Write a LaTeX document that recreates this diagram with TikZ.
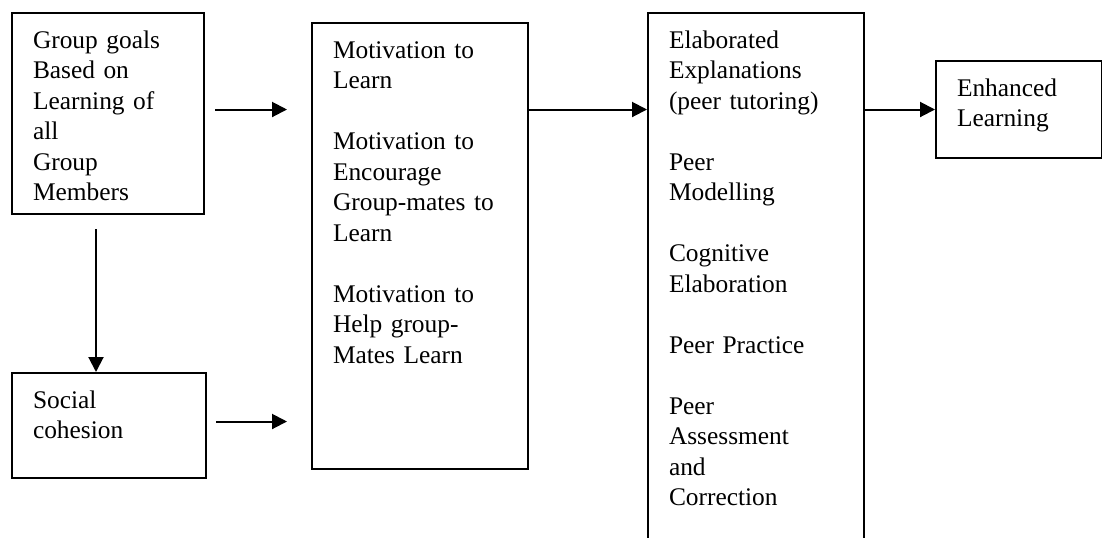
\documentclass[tikz,border=0pt]{standalone}
\usepackage{fontspec}
\setmainfont{Liberation Serif}
\usetikzlibrary{arrows.meta}
\tikzset{
    stagebox/.style={draw, line width=1pt, anchor=north west, align=left,
        inner xsep=10.5pt, inner ysep=7.5pt, text height=10pt,
        font=\fontsize{12.7}{15.25}\selectfont},
    flow/.style={line width=1pt, -{Triangle[length=7.5pt, width=7.5pt]}}
}
\begin{document}
\begin{tikzpicture}[x=0.5pt, y=-0.5pt]
    \useasboundingbox (0, 0) rectangle (1102, 537);
    \clip (0, 0) rectangle (1102, 537);
        \node[stagebox, text width=75pt, text depth=75.5pt] (goals) at (11, 12)
            {Group goals\\Based on\\Learning of\\all\\Group\\Members};
        \node[stagebox, text width=76pt, text depth=27.5pt] (cohesion) at (11, 372)
            {Social\\cohesion};
        \node[stagebox, text width=87pt, text depth=198pt] (motiv) at (311, 22)
            {Motivation to\\Learn\\[15.25pt]Motivation to\\Encourage\\Group-mates to\\Learn\\[15.25pt]Motivation to\\Help group-\\Mates Learn};
        \node[stagebox, text width=87pt, text depth=241.5pt] (elab) at (647, 12)
            {Elaborated\\Explanations\\(peer tutoring)\\[15.25pt]Peer\\Modelling\\[15.25pt]Cognitive\\Elaboration\\[15.25pt]Peer Practice\\[15.25pt]Peer\\Assessment\\and\\Correction};
        \node[stagebox, text width=62pt, text depth=23.5pt] (enhanced) at (935, 60)
            {Enhanced\\Learning};
        % arrows
        \draw[flow, shorten <=5pt, shorten >=12pt] (goals.east |- enhanced.west) -- (motiv.west |- enhanced.west);
        \draw[flow, shorten <=7pt] ([xshift=-6pt]goals.south) -- ([xshift=-6pt]goals.south |- cohesion.north);
        \draw[flow, shorten <=4.5pt, shorten >=12pt] ([yshift=2pt]cohesion.east) -- ([yshift=2pt]cohesion.east -| motiv.west);
        \draw[flow] (motiv.east |- enhanced.west) -- (elab.west |- enhanced.west);
        \draw[flow] (elab.east |- enhanced.west) -- (enhanced.west);
\end{tikzpicture}
\end{document}
